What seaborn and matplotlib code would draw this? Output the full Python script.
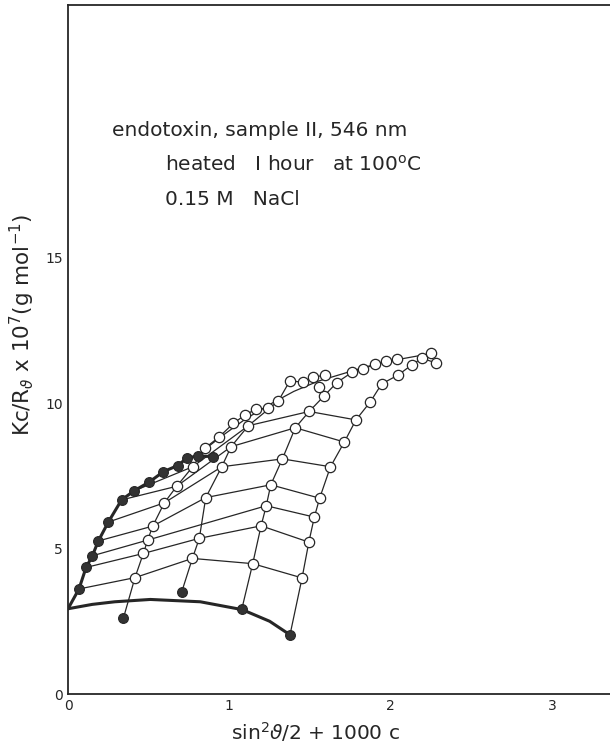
import numpy as np
import pandas as pd
import matplotlib
matplotlib.use("Agg")
import matplotlib.pyplot as plt
import seaborn as sns

# extrapolation c -> 0 (filled points on the steep left curve), 13 angles
c0_x = [0.068, 0.112, 0.151, 0.188, 0.250, 0.332, 0.409, 0.505, 0.591, 0.679, 0.738, 0.803, 0.896]
c0_y = [3.61, 4.35, 4.75, 5.26, 5.91, 6.67, 6.98, 7.29, 7.64, 7.85, 8.11, 8.18, 8.16]
intercept = 2.93

# extrapolation theta -> 0 (filled points at the foot of each concentration line)
t0_x = [0.343, 0.705, 1.077, 1.376]
t0_y = [2.60, 3.51, 2.91, 2.03]

# thick theta -> 0 curve
bottom_x = [0.0, 0.15, 0.29, 0.51, 0.82, 1.08, 1.25, 1.38]
bottom_y = [2.93, 3.08, 3.17, 3.25, 3.17, 2.90, 2.50, 2.02]

# measured points, one list per concentration, angles 1..13 (nan = no point)
nan = np.nan
c1_x = [0.415, 0.467, 0.494, 0.525, 0.597, 0.674, 0.773, 0.849, 0.936, 1.025, 1.097, 1.166, 1.242]
c1_y = [4.00, 4.83, 5.29, 5.77, 6.57, 7.14, 7.81, 8.45, 8.83, 9.30, 9.59, 9.79, 9.82]
c2_x = [0.771, 0.814, nan, 0.854, 0.953, 1.011, 1.118, 1.304, 1.376, 1.455, 1.521, 1.593, nan]
c2_y = [4.66, 5.35, nan, 6.75, 7.81, 8.50, 9.22, 10.07, 10.77, 10.71, 10.90, 10.95, nan]
c3_x = [1.145, 1.197, 1.229, 1.257, 1.329, 1.409, 1.495, 1.587, 1.666, 1.759, 1.831, 1.903, 1.971]
c3_y = [4.48, 5.78, 6.47, 7.19, 8.08, 9.15, 9.71, 10.24, 10.70, 11.05, 11.16, 11.34, 11.44]
c4_x = [1.451, 1.493, 1.527, 1.560, 1.627, 1.713, 1.785, 1.874, 1.945, 2.046, 2.131, 2.193, 2.280]
c4_y = [3.99, 5.22, 6.08, 6.73, 7.81, 8.66, 9.42, 10.04, 10.66, 10.96, 11.31, 11.54, 11.38]

# stray open points in the upper cluster
extra_x = [1.558, 2.040, 2.250]
extra_y = [10.56, 11.51, 11.71]

# upper envelope curve
top_x = [0.80, 0.95, 1.10, 1.25, 1.40, 1.55, 1.70, 1.85, 2.00, 2.15, 2.25]
top_y = [8.20, 8.85, 9.45, 9.95, 10.40, 10.75, 11.00, 11.25, 11.45, 11.60, 11.70]

# angle curves are drawn for the first 7 angles only
n_angle_curves = 7

conc_x = [c1_x, c2_x, c3_x, c4_x]
conc_y = [c1_y, c2_y, c3_y, c4_y]

# long tables for seaborn
rows = []
for j in range(4):
    rows.append(("c%d" % j, t0_x[j], t0_y[j]))
    for xx, yy in zip(conc_x[j], conc_y[j]):
        if not np.isnan(xx):
            rows.append(("c%d" % j, xx, yy))
for k in range(n_angle_curves):
    rows.append(("a%d" % k, c0_x[k], c0_y[k]))
    for j in range(4):
        if not np.isnan(conc_x[j][k]):
            rows.append(("a%d" % k, conc_x[j][k], conc_y[j][k]))
for xx, yy in zip(top_x, top_y):
    rows.append(("top", xx, yy))
thin = pd.DataFrame(rows, columns=["line", "x", "y"])

thick = pd.concat([
    pd.DataFrame({"line": "left", "x": [0.0] + c0_x, "y": [intercept] + c0_y}),
    pd.DataFrame({"line": "bottom", "x": bottom_x, "y": bottom_y}),
])

open_pts = pd.DataFrame({
    "x": sum(conc_x, []) + extra_x,
    "y": sum(conc_y, []) + extra_y,
}).dropna()
filled_pts = pd.DataFrame({"x": c0_x + t0_x, "y": c0_y + t0_y})

sns.set_style("white")
plt.rcParams["font.family"] = ["DejaVu Sans"]

fig = plt.figure(figsize=(6.10, 7.49), dpi=100)
ax = fig.add_axes([0.1115, 0.0734, 0.8885, 0.92])

ink = "#262626"
sns.lineplot(data=thin, x="x", y="y", units="line", estimator=None, sort=False,
             color=ink, lw=0.9, ax=ax, zorder=2)
sns.lineplot(data=thick, x="x", y="y", units="line", estimator=None, sort=False,
             color=ink, lw=2.2, ax=ax, zorder=3)
sns.scatterplot(data=open_pts, x="x", y="y", s=55, facecolor="white",
                edgecolor=ink, linewidth=0.9, ax=ax, zorder=4)
sns.scatterplot(data=filled_pts, x="x", y="y", s=50, color="#333333",
                edgecolor=ink, linewidth=0.8, ax=ax, zorder=5)

ax.set_xlim(0, 3.36)
ax.set_ylim(0, 23.68)
ax.set_xticks([0, 1, 2, 3])
ax.set_yticks([0, 5, 10, 15])
ax.tick_params(direction="in", length=5, width=0.9, labelsize=10, colors=ink)
for side in ["left", "bottom", "top"]:
    ax.spines[side].set_color(ink)
    ax.spines[side].set_linewidth(1.3)
ax.spines["right"].set_visible(False)

ax.set_xlabel(r"sin$^2\vartheta$/2 + 1000 c", fontsize=14.5, color=ink)
ax.set_ylabel(r"Kc/R$_\vartheta$ x 10$^7$(g mol$^{-1}$)", fontsize=15.5, color=ink)
ax.xaxis.set_label_coords(0.456, -0.055)
ax.xaxis.label.set_va("center")
ax.yaxis.set_label_coords(-0.085, 0.536)
ax.yaxis.label.set_va("center")

ax.text(0.27, 19.35, "endotoxin, sample II, 546 nm", fontsize=14.5, color=ink, va="center")
ax.text(0.60, 18.2, "heated   I hour   at 100$^{\\rm o}$C", fontsize=14.5, color=ink, va="center")
ax.text(0.60, 17.0, "0.15 M   NaCl", fontsize=14.5, color=ink, va="center")

fig.savefig("out.png", dpi=100)
